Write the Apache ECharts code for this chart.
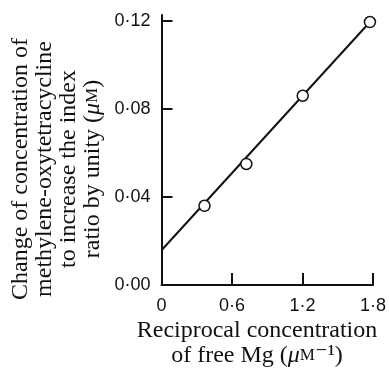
<!DOCTYPE html>
<html>
<head>
<meta charset="utf-8">
<script src="https://cdn.jsdelivr.net/npm/echarts@6/dist/echarts.min.js"></script>
<style>
  html, body { margin: 0; padding: 0; background: #fff; }
  #chart { width: 389px; height: 370px; }
</style>
</head>
<body>
<div id="chart"></div>
<script>
// Reciprocal free Mg concentration (µM^-1) and the change in
// methylene-oxytetracycline concentration needed to raise the index ratio by one (µM)
const recipMg = [0.366, 0.722, 1.202, 1.774];
const deltaConc = [0.036, 0.055, 0.086, 0.1195];

// Straight line drawn through the points (end points)
const fitX = [0, 1.774];
const fitY = [0.0158, 0.1195];

// Tick values and their labels, printed with a raised decimal point
const xTicks = [0, 0.6, 1.2, 1.8];
const xTickLabels = ['0', '0·6', '1·2', '1·8'];
const yTicks = [0, 0.04, 0.08, 0.12];
const yTickLabels = ['0·00', '0·04', '0·08', '0·12'];

const INK = '#111';
const SERIF = '"Liberation Serif", "DejaVu Serif", serif';
const SANS = '"Liberation Sans", "DejaVu Sans", sans-serif';

const chart = echarts.init(document.getElementById('chart'), null, { renderer: 'canvas' });

const richTitle = {
  mu: { fontFamily: SERIF, fontSize: 24, fontStyle: 'italic', fill: INK },
  sc: { fontFamily: SERIF, fontSize: 17, fill: INK }
};

const labelFor = (ticks, labels) => (v) => {
  const k = ticks.findIndex(t => Math.abs(t - v) < 1e-6);
  return k >= 0 ? labels[k] : '';
};

chart.setOption({
  animation: false,
  backgroundColor: '#fff',
  grid: { left: 161.5, right: 14, top: 15, bottom: 85, containLabel: false },
  xAxis: {
    type: 'value',
    min: 0, max: 1.8, interval: 0.6,
    axisLine: { show: true, onZero: false, lineStyle: { color: INK, width: 2 } },
    axisTick: { show: true, inside: true, length: 12, lineStyle: { color: INK, width: 2 } },
    splitLine: { show: false },
    axisLabel: {
      color: INK, fontFamily: SANS, fontSize: 18, margin: 12,
      formatter: labelFor(xTicks, xTickLabels)
    }
  },
  yAxis: {
    type: 'value',
    min: 0, max: 0.1227,
    axisLine: { show: true, onZero: false, lineStyle: { color: INK, width: 2 } },
    axisTick: { show: true, inside: true, length: 11, customValues: yTicks, lineStyle: { color: INK, width: 2 } },
    splitLine: { show: false },
    axisLabel: {
      color: INK, fontFamily: SANS, fontSize: 18, margin: 11,
      customValues: yTicks,
      formatter: labelFor(yTicks, yTickLabels)
    }
  },
  series: [
    {
      type: 'line',
      data: fitX.map((x, i) => [x, fitY[i]]),
      symbol: 'none',
      lineStyle: { color: INK, width: 2 },
      silent: true,
      z: 2
    },
    {
      type: 'scatter',
      data: recipMg.map((x, i) => [x, deltaConc[i]]),
      symbol: 'circle',
      symbolSize: 11,
      itemStyle: { color: '#ffffff', opacity: 1, borderColor: INK, borderWidth: 1.5 },
      emphasis: { disabled: true },
      z: 3
    }
  ],
  graphic: [
    {
      type: 'text',
      x: 57, y: 169,
      rotation: Math.PI / 2,
      style: {
        text: 'Change of concentration of\nmethylene-oxytetracycline\nto increase the index\nratio by unity ({mu|μ}{sc|M})',
        rich: richTitle,
        fontFamily: SERIF, fontSize: 24, fill: INK,
        align: 'center', verticalAlign: 'middle', lineHeight: 24
      }
    },
    {
      type: 'text',
      x: 257, y: 343,
      style: {
        text: 'Reciprocal concentration\nof free Mg ({mu|μ}{sc|M}⁻¹)',
        rich: richTitle,
        fontFamily: SERIF, fontSize: 24, fill: INK,
        align: 'center', verticalAlign: 'middle', lineHeight: 25
      }
    }
  ]
});
</script>
</body>
</html>
